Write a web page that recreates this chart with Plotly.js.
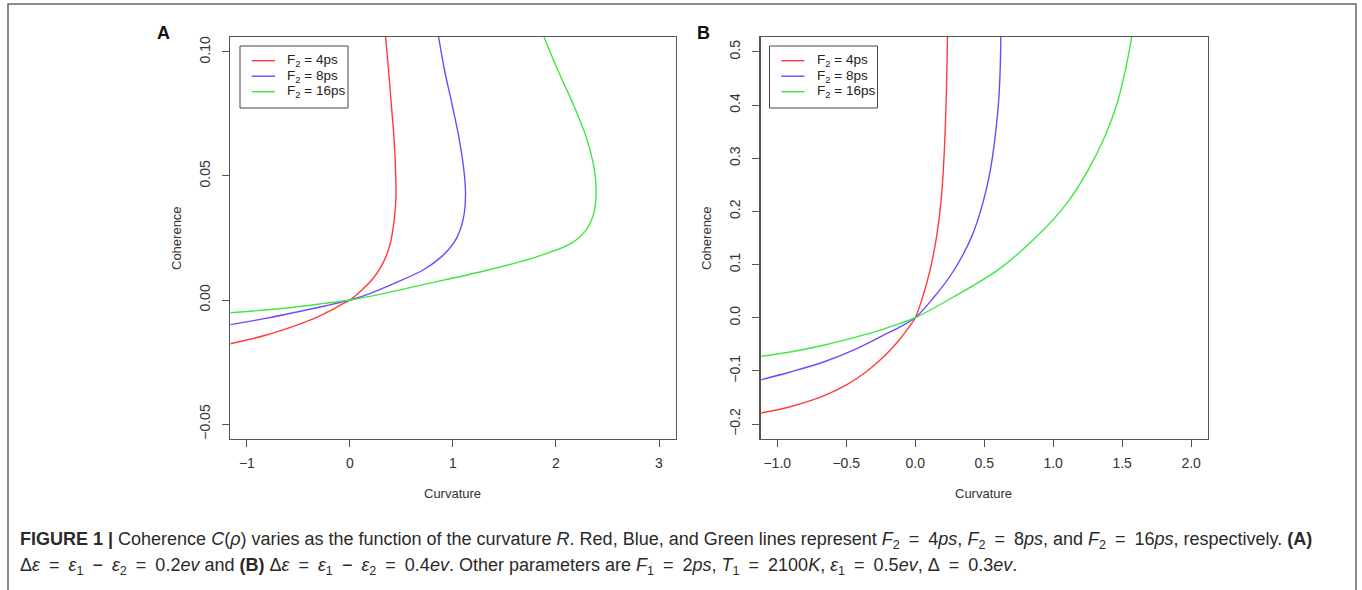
<!DOCTYPE html>
<html><head><meta charset="utf-8">
<script src="https://cdn.plot.ly/plotly-3.0.1.min.js"></script>
<style>html,body{margin:0;padding:0;background:#fff}#chart{width:1362px;height:590px}</style>
</head><body><div id="chart"></div>
<script>
// ---- series labels & colours ----
const seriesNames = ['F<sub>2</sub> = 4ps', 'F<sub>2</sub> = 8ps', 'F<sub>2</sub> = 16ps'];
const seriesColors = ['#ff3b3b', '#7446ff', '#3fe83f'];

// ---- Panel A (Δε = 0.2 ev) : Curvature (x) vs Coherence (y) ----
const aRedY = [-0.0176, -0.0142, -0.0101, -0.0068, -0.0040, -0.0016, 0, 0.0040, 0.0090, 0.0148, 0.0225, 0.0323, 0.0417, 0.0524, 0.0658, 0.0793, 0.0927, 0.1062];
const aRedX = [-1.16, -0.82, -0.515, -0.312, -0.176, -0.075, 0, 0.115, 0.23, 0.32, 0.39, 0.43, 0.447, 0.443, 0.427, 0.401, 0.375, 0.346];
const aBlueY = [-0.0099, -0.0074, -0.0045, -0.0024, -0.0011, 0, 0.0027, 0.0067, 0.0121, 0.0175, 0.0228, 0.0282, 0.0349, 0.0430, 0.0524, 0.0658, 0.0793, 0.0927, 0.1062];
const aBlueX = [-1.16, -0.82, -0.481, -0.244, -0.108, 0, 0.20, 0.43, 0.71, 0.89, 1.005, 1.07, 1.11, 1.122, 1.106, 1.057, 0.989, 0.918, 0.860];
const aGreenY = [-0.0051, -0.0031, -0.00135, 0, 0.0024, 0.0060, 0.0120, 0.0175, 0.0228, 0.0282, 0.0349, 0.0430, 0.0524, 0.0658, 0.0793, 0.0927, 0.1062];
const aGreenX = [-1.16, -0.583, -0.244, 0, 0.30, 0.69, 1.33, 1.82, 2.145, 2.292, 2.367, 2.389, 2.373, 2.292, 2.163, 2.017, 1.882];

// ---- Panel B (Δε = 0.4 ev) ----
const bRedY = [-0.1790, -0.1673, -0.1470, -0.1257, -0.1007, -0.0735, -0.0470, -0.0228, 0, 0.040, 0.090, 0.153, 0.216, 0.279, 0.405, 0.531];
const bRedX = [-1.116, -0.906, -0.664, -0.495, -0.350, -0.229, -0.133, -0.060, 0, 0.055, 0.108, 0.155, 0.186, 0.204, 0.224, 0.234];
const bBlueY = [-0.1165, -0.102, -0.0832, -0.058, -0.0327, -0.017, 0, 0.040, 0.087, 0.153, 0.2156, 0.2786, 0.3415, 0.4045, 0.4676, 0.531];
const bBlueX = [-1.116, -0.906, -0.664, -0.423, -0.229, -0.109, 0, 0.14, 0.275, 0.41, 0.49, 0.545, 0.58, 0.604, 0.616, 0.621];
const bGreenY = [-0.0724, -0.0643, -0.0516, -0.0359, -0.0214, -0.0107, 0, 0.0395, 0.090, 0.1526, 0.2156, 0.2786, 0.3415, 0.4045, 0.4676, 0.531];
const bGreenX = [-1.116, -0.906, -0.664, -0.423, -0.229, -0.109, 0, 0.28, 0.60, 0.88, 1.10, 1.255, 1.375, 1.465, 1.525, 1.572];

// ---- axis ticks ----
const aXTicks = [-1, 0, 1, 2, 3];
const aYTicks = [-0.05, 0, 0.05, 0.10];
const bXTicks = [-1.0, -0.5, 0.0, 0.5, 1.0, 1.5, 2.0];
const bYTicks = [-0.2, -0.1, 0.0, 0.1, 0.2, 0.3, 0.4, 0.5];

const W = 1362, H = 590;
const px = v => v / W;
const py = v => (H - v) / H;
const FONT = 'Liberation Sans, Arial, Helvetica, sans-serif';
const CAP_FONT = 'Liberation Sans Narrow, Arial Narrow, Liberation Sans, sans-serif';

function mk(x, y, i, xa, ya) {
  return {
    type: 'scatter', mode: 'lines', x: x, y: y, name: seriesNames[i],
    xaxis: xa, yaxis: ya, showlegend: false,
    line: {color: seriesColors[i], width: 1.4, shape: 'spline', smoothing: 0.9},
    hoverinfo: 'skip'
  };
}

const traces = [
  mk(aRedX, aRedY, 0, 'x', 'y'),
  mk(aBlueX, aBlueY, 1, 'x', 'y'),
  mk(aGreenX, aGreenY, 2, 'x', 'y'),
  mk(bRedX, bRedY, 0, 'x2', 'y2'),
  mk(bBlueX, bBlueY, 1, 'x2', 'y2'),
  mk(bGreenX, bGreenY, 2, 'x2', 'y2')
];

const axBase = {
  ticks: 'outside', ticklen: 7, tickwidth: 1, tickcolor: '#555',
  showline: true, linecolor: '#555', linewidth: 1.3, mirror: true,
  showgrid: false, zeroline: false,
  tickfont: {family: FONT, size: 14, color: '#333'}
};

const yDom = [py(439), py(37)];

const shapes = [
  {type: 'rect', xref: 'paper', yref: 'paper', x0: px(8), x1: px(1356), y0: -0.05, y1: py(4),
   line: {color: '#666', width: 1.5}, fillcolor: 'rgba(0,0,0,0)', layer: 'below'}
];
const annFont = {family: FONT, size: 13, color: '#333'};
const annotations = [];

// R-style legend box drawn in pixel positions (top-left corner at bx, by)
function addLegend(bx, by) {
  shapes.push({type: 'rect', xref: 'paper', yref: 'paper', x0: px(bx), x1: px(bx + 108), y0: py(by + 62), y1: py(by),
    line: {color: '#444', width: 1}, fillcolor: '#fff', layer: 'above'});
  seriesNames.forEach((nm, i) => {
    const yy = by + 14.7 + i * 15.5;
    shapes.push({type: 'line', xref: 'paper', yref: 'paper', x0: px(bx + 11.7), x1: px(bx + 35), y0: py(yy), y1: py(yy),
      line: {color: seriesColors[i], width: 1.4}, layer: 'above'});
    annotations.push({text: nm, x: px(bx + 45), y: py(yy), xref: 'paper', yref: 'paper', showarrow: false,
      xanchor: 'left', yanchor: 'middle', font: {family: FONT, size: 13.5, color: '#222'}});
  });
}
addLegend(240, 46);
addLegend(769.5, 46);

annotations.push(
  {text: '<b>A</b>', x: px(163), y: py(33), xref: 'paper', yref: 'paper', showarrow: false, xanchor: 'center', yanchor: 'middle', font: {family: FONT, size: 18, color: '#111'}},
  {text: '<b>B</b>', x: px(703), y: py(33), xref: 'paper', yref: 'paper', showarrow: false, xanchor: 'center', yanchor: 'middle', font: {family: FONT, size: 18, color: '#111'}},
  {text: 'Curvature', x: px(453), y: py(493), xref: 'paper', yref: 'paper', showarrow: false, xanchor: 'center', yanchor: 'middle', font: annFont},
  {text: 'Curvature', x: px(984), y: py(493), xref: 'paper', yref: 'paper', showarrow: false, xanchor: 'center', yanchor: 'middle', font: annFont},
  {text: 'Coherence', x: px(177), y: py(238), xref: 'paper', yref: 'paper', showarrow: false, textangle: -90, xanchor: 'center', yanchor: 'middle', font: annFont},
  {text: 'Coherence', x: px(707), y: py(238), xref: 'paper', yref: 'paper', showarrow: false, textangle: -90, xanchor: 'center', yanchor: 'middle', font: annFont},
  {text: '<b>FIGURE 1 |</b> Coherence <i>C</i>(<i>ρ</i>) varies as the function of the curvature <i>R</i>. Red, Blue, and Green lines represent <i>F</i><sub>2</sub>\u2002=\u20024<i>ps</i>, <i>F</i><sub>2</sub>\u2002=\u20028<i>ps</i>, and <i>F</i><sub>2</sub>\u2002=\u200216<i>ps</i>, respectively. <b>(A)</b>',
   x: px(18), y: py(540), xref: 'paper', yref: 'paper', showarrow: false, xanchor: 'left', yanchor: 'middle', align: 'left',
   font: {family: CAP_FONT, size: 18, color: '#2a2a2a'}},
  {text: 'Δ<i>ε</i>\u2002=\u2002<i>ε</i><sub>1</sub>\u2002−\u2002<i>ε</i><sub>2</sub>\u2002=\u20020.2<i>ev</i> and <b>(B)</b> Δ<i>ε</i>\u2002=\u2002<i>ε</i><sub>1</sub>\u2002−\u2002<i>ε</i><sub>2</sub>\u2002=\u20020.4<i>ev</i>. Other parameters are <i>F</i><sub>1</sub>\u2002=\u20022<i>ps</i>, <i>T</i><sub>1</sub>\u2002=\u20022100<i>K</i>, <i>ε</i><sub>1</sub>\u2002=\u20020.5<i>ev</i>, Δ\u2002=\u20020.3<i>ev</i>.',
   x: px(18), y: py(566), xref: 'paper', yref: 'paper', showarrow: false, xanchor: 'left', yanchor: 'middle', align: 'left',
   font: {family: CAP_FONT, size: 18, color: '#2a2a2a'}}
);

const layout = {
  width: W, height: H,
  margin: {l: 0, r: 0, t: 0, b: 0},
  paper_bgcolor: '#fff', plot_bgcolor: '#fff',
  showlegend: false,
  xaxis: Object.assign({}, axBase, {domain: [px(230.4), px(675.5)], range: [-1.16, 3.16], anchor: 'y', tickvals: aXTicks, ticklabelstandoff: 4}),
  yaxis: Object.assign({}, axBase, {domain: yDom, range: [-0.056, 0.106], anchor: 'x', tickvals: aYTicks, tickformat: '.2f', tickangle: -90, ticklabelstandoff: 7}),
  xaxis2: Object.assign({}, axBase, {domain: [px(760.7), px(1207.7)], range: [-1.12, 2.12], anchor: 'y2', tickvals: bXTicks, tickformat: '.1f', ticklabelstandoff: 4}),
  yaxis2: Object.assign({}, axBase, {domain: yDom, range: [-0.228, 0.528], anchor: 'x2', tickvals: bYTicks, tickformat: '.1f', tickangle: -90, ticklabelstandoff: 7}),
  shapes: shapes,
  annotations: annotations
};

Plotly.newPlot('chart', traces, layout, {staticPlot: true, displayModeBar: false});
</script>
</body></html>
